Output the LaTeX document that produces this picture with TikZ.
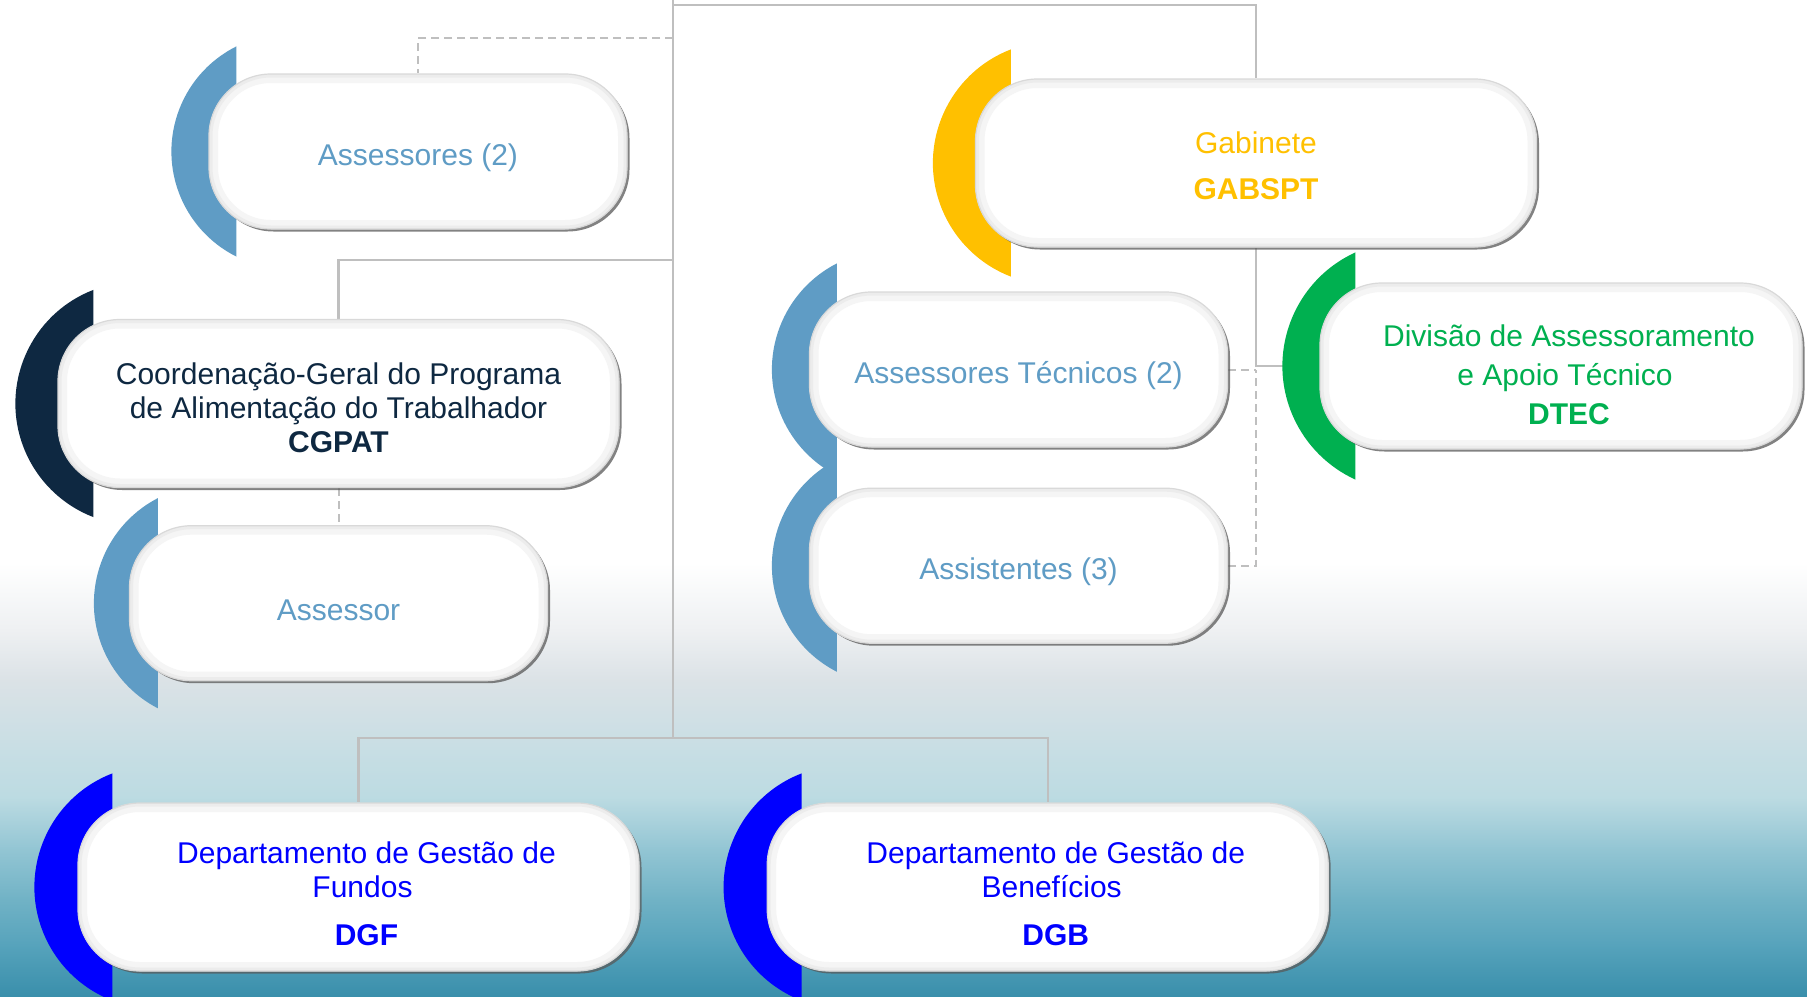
\documentclass[tikz,border=0pt]{standalone}
\usepackage{fontspec}
\setmainfont{Liberation Sans}
\usetikzlibrary{positioning, calc, shadows}
\pgfdeclarelayer{back}
\pgfsetlayers{back,main}

\definecolor{steel}{HTML}{5F9CC5}
\definecolor{navy}{HTML}{0E2841}
\definecolor{gold}{HTML}{FFC000}
\definecolor{leaf}{HTML}{00B050}
\definecolor{royal}{HTML}{0000FF}
\definecolor{wire}{HTML}{BFBFBF}
\definecolor{bgA}{HTML}{EEF0F2}
\definecolor{bgB}{HTML}{DBE2E6}
\definecolor{bgC}{HTML}{C8DEE4}
\definecolor{bgD}{HTML}{BCDBE2}
\definecolor{bgE}{HTML}{94C6D4}
\definecolor{bgF}{HTML}{72B3C6}
\definecolor{bgG}{HTML}{55A2BB}
\definecolor{bgH}{HTML}{3A8FAB}

% node, colour, reach left of the box, reach into the box, overhang
\newcommand{\moonarc}[5]{%
	\fill[#2] let \p1=(#1.west), \p2=(#1.north), \p3=(#1.south),
		\n1={scalar((\y2-\y3)/2)+#5},
		\n2={#3+#4},
		\n3={0.5*(\n1/\n2*\n1+\n2)},
		\n4={acos((\n3-\n2)/\n3)}
	in (\x1+#4pt,\y2+#5pt) arc[start angle=180-\n4, end angle=180+\n4, radius=\n3 pt] -- cycle;}
\newcommand{\strutto}[1]{\rule{0pt}{#1pt}}
\newcommand{\nudge}[1]{\hspace*{8pt}#1\hspace*{-8pt}}

\begin{document}
\begin{tikzpicture}
	[x=1pt, y=-1pt,
	 pill/.style={rectangle, rounded corners=62pt, fill=white, draw=gray!30, line width=1.2pt,
	   align=center, inner sep=0pt,
	   drop shadow={shadow xshift=2.5pt, shadow yshift=-2.5pt, fill=black!65, opacity=.75},
	   path picture={
	     \draw[gray!8, line width=18pt, rounded corners=62pt] (path picture bounding box.south west) rectangle (path picture bounding box.north east);
	     \draw[gray!15, line width=7pt, rounded corners=62pt] (path picture bounding box.south west) rectangle (path picture bounding box.north east);}},
	 unit/.style={pill, minimum width=418pt, minimum height=155pt},
	 dept/.style={pill, minimum width=561pt, minimum height=168pt},
	 link/.style={draw=wire, line width=2.2pt},
	 aux/.style={draw=wire, line width=2pt, dash pattern=on 8pt off 5pt},
	 font=\fontsize{30}{34}\selectfont]
	\useasboundingbox (0,0) rectangle (1807,996);
	\node[unit, text=steel] (as2) at (418,151.5) {\strutto{34}Assessores (2)};
	\node[dept, text=gold] (gab) at (1256,163) {\strutto{28}Gabinete\\[12pt]\textbf{GABSPT}};
	\node[dept, text=navy] (cgpat) at (338.5,403.5) {\strutto{31}Coordenação-Geral do Programa\\de Alimentação do Trabalhador\\\textbf{CGPAT}};
	\node[unit, text=steel] (tec) at (1018.5,369.5) {\strutto{34}Assessores Técnicos (2)};
	\node[unit, text=steel] (asst) [below=40pt of tec] {\strutto{34}Assistentes (3)};
	\node[dept, minimum width=482pt, minimum height=166pt, text=leaf] (dtec) at (1561,366)
		{\strutto{40}\nudge{Divisão de Assessoramento}\\[5pt]\nudge{e Apoio Técnico}\\[5pt]\nudge{\textbf{DTEC}}};
	\node[unit, text=steel] (assr) [below=37pt of cgpat] {\strutto{34}Assessor};
	\node[dept, text=royal] (dgf) at (358.5,887)
		{\strutto{36}\nudge{Departamento de Gestão de}\\\nudge{Fundos}\\[14pt]\nudge{\textbf{DGF}}};
	\node[dept, text=royal] (dgb) [right=127pt of dgf]
		{\strutto{36}\nudge{Departamento de Gestão de}\\\nudge{Benefícios}\\[14pt]\nudge{\textbf{DGB}}};
	\coordinate (spine) at (673,0);
	\coordinate (hub) at (673,738);

	\begin{pgfonlayer}{back}
	\fill[white] (0,0) rectangle (1807,564);
	\foreach \ya/\yb/\ca/\cb in {563/631/white/bgA, 630/681/bgA/bgB, 680/748/bgB/bgC, 747/798/bgC/bgD,
	                             797/848/bgD/bgE, 847/898/bgE/bgF, 897/948/bgF/bgG, 947/996/bgG/bgH}
		\shade[top color=\ca, bottom color=\cb] (0,\ya) rectangle (1807,\yb);

	\draw[link] (spine) -- (hub);
	\draw[link] ([yshift=-5pt]spine) -| (gab.north);
	\draw[link] ([yshift=-260pt]spine) -| (cgpat.north);
	\draw[link] (hub) -| (dgf.north);
	\draw[link] (hub) -| (dgb.north);
	\draw[link] (gab.south) |- (dtec.west);
	\draw[aux] ([yshift=-38pt]spine) -| (as2.north);
	\draw[aux] (cgpat.south) -- (assr.north);
	\draw[aux] (tec.east) -- (tec.east -| gab.south);
	\draw[aux] (asst.east) -| (gab.south |- tec.east);

	\moonarc{as2}{steel}{37}{28}{27}
	\moonarc{gab}{gold}{42}{36}{29}
	\moonarc{cgpat}{navy}{42}{36}{29}
	\moonarc{tec}{steel}{37}{28}{28}
	\moonarc{asst}{steel}{37}{28}{28}
	\moonarc{dtec}{leaf}{37}{36}{30}
	\moonarc{assr}{steel}{35}{29}{27}
	\moonarc{dgf}{royal}{43}{35}{29}
	\moonarc{dgb}{royal}{43}{35}{29}
	\end{pgfonlayer}
\end{tikzpicture}
\end{document}
